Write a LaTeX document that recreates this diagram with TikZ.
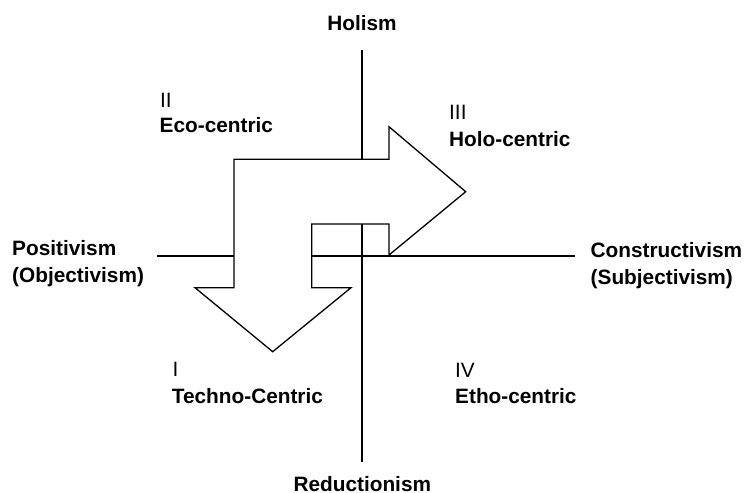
\documentclass[tikz,border=0pt]{standalone}
\usepackage{fontspec}
\setmainfont{Liberation Sans}
\begin{document}
\begin{tikzpicture}[x=1pt,y=-1pt,
  axis/.style={line width=2pt},
  bigarrow/.style={line width=1.3pt, fill=white, line join=miter},
  lbl/.style={inner sep=0pt, font=\fontsize{20.8}{25}\selectfont\bfseries},
  num/.style={inner sep=0pt, font=\fontsize{20.8}{25}\selectfont},
]
\useasboundingbox (0,0) rectangle (745,493);
% axes
\coordinate (vtop) at (362.3,50);
\coordinate (vbot) at (362.3,461.5);
\coordinate (hleft) at (157,255.7);
\coordinate (hright) at (575,255.7);
\draw[axis] (vtop) -- (vbot);
\draw[axis] (hleft) -- (hright);
% bent arrow
\draw[bigarrow] (234,159.3) -- (389,159.3) -- (389,126.7) -- (465.7,191.7)
  -- (389,255) -- (389,224) -- (311.7,224) -- (311.7,287.7) -- (351,287.7)
  -- (272.7,351.7) -- (195,287.7) -- (234,287.7) -- cycle;
% labels
\node[lbl, anchor=base] (holism) at (362,30) {Holism};
\node[lbl, anchor=base] (reduct) at (362.3,491.5) {Reductionism};
\node[lbl, anchor=base west] (posit) at (12,255) {Positivism};
\node[lbl, anchor=base west] (objec) at (12,282.5) {(Objectivism)};
\node[lbl, anchor=base west] (constr) at (590.5,257.5) {Constructivism};
\node[lbl, anchor=base west] (subj) at (590.5,284.5) {(Subjectivism)};
\node[num, anchor=base west] (nII) at (160,107) {II};
\node[lbl, anchor=base west] (eco) at (159.5,132.5) {Eco-centric};
\node[num, anchor=base west] (nIII) at (449,119.3) {III};
\node[lbl, anchor=base west] (holo) at (449,146) {Holo-centric};
\node[num, anchor=base west] (nI) at (172.5,376.7) {I};
\node[lbl, anchor=base west] (techno) at (171.7,403.3) {Techno-Centric};
\node[num, anchor=base west] (nIV) at (455,377.3) {IV};
\node[lbl, anchor=base west] (etho) at (455,403.3) {Etho-centric};
\end{tikzpicture}
\end{document}
